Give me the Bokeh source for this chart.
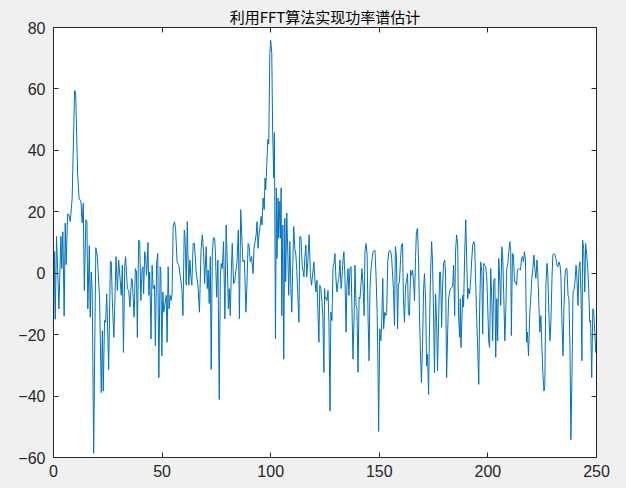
from bokeh.plotting import figure
from bokeh.models import LinearAxis, Range1d, FixedTicker, CustomLabelingPolicy
from bokeh.embed import file_html
from bokeh.resources import INLINE

title_text = "利用FFT算法实现功率谱估计"
x_ticks = [0, 50, 100, 150, 200, 250]
y_ticks = [-60, -40, -20, 0, 20, 40, 60, 80]

# power spectrum (dB), frequency in Hz
f_a = [0.0, 0.5, 0.8, 1.4, 2.5, 3.4, 3.8, 4.3, 4.9, 5.4, 5.8, 6.5, 7.1, 7.7, 8.6, 9.7, 10.2, 11.1, 11.8, 12.6,
       13.2, 13.7, 14.2, 14.9, 15.4, 15.8, 16.5, 16.9, 17.4, 17.8, 18.5, 19.1, 19.5, 20.2, 21.2, 22.0, 22.5, 22.9,
       23.5, 24.0, 24.5, 25.4, 26.2, 26.6, 27.2, 27.8, 28.8, 29.4]
p_a = [-16, 7, -15, 12, -11.6, 12, 1.5, 13.5, -14, 16.3, 2.8, 19.3, 19, 16.8, 24.5, 59.5, 58.9, 32.7, 24, 23.7,
       16.5, 22.8, -5.6, 17.4, 16.8, -11.6, 9, -14.3, 0.4, -5, -58.6, -16, 8.3, 5.4, -8.3, -38.9, -18.7, -38.4,
       -15.4, -16, -6.7, -31.3, 3.9, 3.7, -11.6, -20.9, 5.4, -5.6]

f_b = [30.0, 30.6, 31.2, 31.7, 32.2, 32.8, 33.2, 34.0, 34.6, 35.2, 35.9, 36.3, 37.1, 37.7, 38.2, 38.6, 39.2, 39.7,
       40.2, 40.8, 41.2, 41.5, 42.0, 42.5, 42.8, 43.1, 43.5, 43.9, 44.3, 44.9, 45.4, 45.9, 46.5, 46.9, 47.5, 48.0,
       48.5, 49.1, 49.4, 49.9, 50.3, 50.8, 51.2, 51.9, 52.3, 52.8, 53.2, 53.7, 54.2, 54.6, 55.1, 55.7, 56.2, 56.9,
       57.7, 58.5, 59.1, 59.6, 60.2, 60.5, 60.8, 61.1, 61.6]
p_b = [4.3, -1.2, -7.2, 2.6, -25.8, 2.6, 5.4, -5, -5.6, -11, -1.7, -2.3, -14.3, 1.5, 0.4, -20.9, 10.8, 10.3,
       -8.9, 1.5, 2.1, -6.7, 7, 4.8, -0.7, 2.6, 10, -7.2, 0.4, -21.4, 2.6, -5, -3.9, -23.6, 3.7, 6.4,
       -34, 2.1, 1.5, -26.9, -6.1, -12.7, -10.5, -7.2, -22.5, 2.1, -11.6, -7.2, -8.9, -6.7, 15.2, 16.8, 14.6, 3.7,
       2.6, -1.7, -5, -13.8, 14.1, 12.5, 6.4, -3.9, 16.8]

f_c = [61.9, 62.3, 62.8, 63.2, 63.7, 64.3, 64.9, 65.7, 66.5, 67.2, 67.9, 68.5, 69.1, 69.6, 70.3, 70.8, 71.2, 71.7,
       72.2, 72.6, 73.1, 73.6, 74.2, 74.6, 75.1, 75.7, 76.3, 76.8, 77.2, 77.7, 78.3, 78.9, 79.5, 80.0, 80.5, 80.9,
       81.4, 81.9, 82.3, 82.9, 83.4, 83.9, 84.5, 85.1, 85.6, 86.2, 86.8, 87.2, 87.9, 88.6, 89.1, 89.6, 90.0, 90.6,
       91.2, 91.9, 92.3, 92.8]
p_c = [5.9, -3.9, 4.3, -0.7, -3.9, 9.7, 9.7, 0.4, -3.9, -12.7, 7, 12.5, 7, -3.4, 8.6, -5, 1, -9.9,
       5.4, -31.3, 5.9, 11.6, 11.4, 5.9, -7.8, 4.3, -41.1, -1.7, 3.2, 1.5, 10.3, -14.9, 15.7, 3.7, -11.6, -5,
       -13.8, 1.5, 9.7, -3.4, -2.8, 0.4, 3.7, 14.1, -14.9, 20.7, 10.3, 3.7, 4.3, -12.7, -2.8, 9.7, 9.2, 3.7,
       5.4, -0.1, 8.1, 10.3]

f_d = [93.3, 93.7, 94.2, 94.6, 95.1, 95.6, 96.0, 96.5, 97.0, 97.4, 97.7, 98.2, 98.7, 99.1, 99.6, 100.0, 100.5,
       100.9, 101.4, 101.7, 102.2, 102.6, 102.9, 103.4, 103.7, 104.2, 104.5, 104.8, 105.1, 105.6, 106.0, 106.5,
       106.9, 107.4, 107.9, 108.3, 108.8, 109.3, 109.7, 110.2, 110.6, 111.1, 111.6, 112.0, 112.5, 113.0, 113.4,
       113.9, 114.5, 115.3, 115.7, 116.2, 116.6, 117.1, 117.7, 118.3, 118.8, 119.4, 119.9, 120.3, 120.8, 121.3,
       121.7, 122.2, 122.6, 123.1, 123.6, 124.0, 124.5, 124.8]
p_d = [12.5, 16.8, 8.1, 12.5, 15.2, 18.5, 15.7, 24.5, 20.7, 31, 27.2, 35.4, 43.6, 42, 71.5, 75.8, 71.5,
       46.3, 31, 45.8, -21.4, 27.8, 4.8, 24.5, 11.4, 23.4, 11.4, 27.8, -13.8, 15.7, -28, 17.9,
       -2.8, 19.6, 5.9, -7.2, 10.3, -5, -12.7, 3.7, 15.2, 8.1, 5.9, 1, -7.2, -16, 11.9,
       11.9, 2.6, -1.2, 4.8, 9.2, -1.2, 3.7, 12.5, -0.7, -3.9, 0.4, 3.7, -1.7, -6.1, -2.3,
       -11.6, -22.5, -3.9, -5, -9.4, -13.8, -32.3, -5]

f_e = [125.0, 125.4, 125.9, 126.4, 126.8, 127.3, 127.7, 128.2, 128.7, 129.1, 129.6, 130.0, 130.5, 131.0, 131.4,
       131.9, 132.4, 132.8, 133.3, 133.7, 134.2, 134.7, 135.1, 135.6, 136.0, 136.5, 137.0, 137.4, 137.9, 138.4,
       138.8, 139.3, 139.7, 140.2, 140.7, 141.1, 141.6, 142.0, 142.5, 143.0, 143.4, 143.9, 144.4, 144.8, 145.3,
       145.7, 146.2, 146.7, 147.1, 147.6, 148.0, 148.5, 149.0, 149.4, 149.7, 150.2, 150.7, 151.1, 151.6, 152.0,
       152.5, 153.0, 153.4, 153.9, 154.4, 154.8, 155.3, 155.7]
p_e = [-8.3, -7.8, -8.9, -5.6, -16, -44.9, -12.7, -15.4, 2.1, 3.2, 6.4, -1.2, -6.1, -2.8, -1.7,
       4.3, -5, -1.7, 4.3, 7, -1.7, -19.2, -3.9, 1.5, -7.2, 1.5, 2.1, -11, -28, -13.8,
       2.6, -10.5, -11.6, -32.3, -7.8, -8.3, -3.4, 1.5, -3.9, -13.8, 7, 9.7, 5.9, -13.8, -28.5,
       -5, 1.5, 4.8, 7, 7.2, 7.5, -0.7, -12.7, -30.2, -51.5, -18.1, -22, -16, -1.7, -18.1,
       -12.7, -13.8, -12.7, 3.7, 7, 7.5, 7, 4.8]

f_f = [156.5, 157.0, 157.4, 157.9, 158.4, 158.8, 159.3, 159.8, 160.2, 160.7, 161.1, 161.6, 162.1, 162.5, 163.0,
       163.4, 163.9, 164.4, 164.8, 165.3, 165.8, 166.2, 166.7, 167.1, 167.6, 168.1, 168.5, 169.0, 169.4, 169.9,
       170.4, 170.8, 171.3, 171.8, 172.2, 172.7, 173.1, 173.6, 174.1, 174.5, 175.0, 175.4, 175.9, 176.4, 176.8,
       177.3, 177.8, 178.2, 178.7, 179.1, 179.6, 180.1, 180.5, 181.0, 181.4, 181.9, 182.4, 182.8, 183.3, 183.8,
       184.2, 184.7, 185.1, 185.6, 186.1, 186.5, 187.0, 187.3, 187.6]
p_f = [-5, -17, 8.6, 5.4, -18.1, -3.9, -2.8, 4.8, 9.2, 9.7, -8.3, -16, -3.9, -2.8, -0.1,
       -13.2, -13.8, 1, -0.7, 1, -2.8, -8.9, 5.4, 13.6, 14.6, 3.7, -13.8, -26.9, -35.6, -23.6,
       -5, -0.1, -8.3, -30.2, -26.3, -39.5, -18.1, -0.1, 10.3, 3.7, -13.8, -32.3, -6.7, -16, -31.8,
       -16, 0.4, 0.4, -17.6, -5, 3.2, 4.3, 0.4, -34, -21.4, -8.3, -6.1, -5, -4.8, -3.9,
       2.6, -13.8, 7, 12.5, 9.2, -13.8, -20.9, -8.3, -24.2]

f_g = [188.4, 188.8, 189.3, 189.8, 190.2, 190.7, 191.2, 191.6, 192.1, 192.5, 193.0, 193.5, 193.9, 194.4, 194.8,
       195.3, 195.8, 196.2, 196.7, 197.2, 197.6, 198.1, 198.5, 199.0, 199.5, 199.9, 200.4, 200.8, 201.3, 201.8,
       202.2, 202.7, 203.2, 203.6, 204.1, 204.5, 205.0, 205.5, 205.9, 206.4, 206.8, 207.3, 207.8, 208.2, 208.7,
       209.2, 209.6, 210.1, 210.5, 210.8, 211.3, 211.8, 212.2, 212.7, 213.2, 213.6, 214.1, 214.5, 215.0, 215.5,
       215.9, 216.4, 216.8, 217.3, 217.8, 218.2, 218.7]
p_g = [-7.2, -11, 5.9, 17.4, 5.9, -8.3, -5, -6.7, -1.7, 3.7, 9.2, 10.3, 9.2, -3.9, -13.8,
       -24.7, -36.2, -11.6, 3.7, 0.4, -19.8, 3.2, 2.6, 2.1, -1.7, -10.5, -22.5, -24.2, 1.5, -8.9,
       -22, -2.3, -1.7, -27.4, -8.3, -22, 4.8, -2.8, -10.5, 8.6, 5.9, -7.2, -22, -13.2, 1.5,
       3.2, 7, 10.3, 7, -20.3, 6.4, 5.9, -2.8, -2.8, -3.9, 1, 1.5, 1.3, 1, 4.8,
       5.4, 3.7, 7, 4.3, -22.5, -19.2, -26.9]

f_h = [219.3, 219.8, 220.2, 220.7, 221.2, 221.6, 222.1, 222.6, 223.0, 223.5, 223.9, 224.4, 224.9, 225.3, 225.8,
       226.2, 226.7, 227.2, 227.6, 228.1, 228.6, 229.0, 229.5, 229.9, 230.4, 230.9, 231.3, 231.8, 232.2, 232.7,
       233.2, 233.6, 234.1, 234.6, 235.0, 235.5, 235.9, 236.4, 236.9, 237.3, 237.8, 238.2, 238.7, 239.2, 239.6,
       240.1, 240.6, 241.0, 241.5, 241.9, 242.4, 242.9, 243.3, 243.6, 244.1, 244.6, 245.0, 245.5, 246.0, 246.4,
       246.9, 247.3, 247.8, 248.3, 248.7, 249.2, 249.7, 250.1]
p_h = [-12.7, -7.2, -1.7, 1.5, 5.9, 1.5, -1.7, 4.3, -0.7, -10.5, -19.2, -13.8, -24.7, -32.3, -38.4,
       -36.7, -3.9, 3.2, -0.7, -13.8, -22, -16, -1.7, 5.9, 6.4, 6, 4.8, 2.6, 2.1, 3.7,
       2.6, -0.7, -16, -26.9, -11.6, -0.7, 1.5, 1.5, -7.2, -8.3, -24.7, -54.2, -33.4, -6.1, -5.6,
       -2.8, 2.6, -1.7, -10.5, 1.5, 3.7, -8.3, -28.5, 10.8, 8.1, -6.1, 9.7, 5.9, 1.5, -5,
       -16, -15.4, -34, -11.6, -12.1, -19.2, -25.8, -22.5]

freq = f_a + f_b + f_c + f_d + f_e + f_f + f_g + f_h
power_db = p_a + p_b + p_c + p_d + p_e + p_f + p_g + p_h
n = min(len(freq), len(power_db))
freq, power_db = freq[:n], power_db[:n]

AX = "#262626"
FONT = "Liberation Sans"

p = figure(width=626, height=488, output_backend="svg", toolbar_location=None,
           x_range=Range1d(0, 250), y_range=Range1d(-60, 80),
           min_border_left=53, min_border_right=30, min_border_top=27, min_border_bottom=31,
           background_fill_color="white", border_fill_color="#f0f0f0")
p.outline_line_color = AX
p.outline_line_width = 1
p.grid.visible = False

p.title.text = title_text
p.title.align = "center"
p.title.text_font = "Noto Sans CJK SC"
p.title.text_font_size = "15px"
p.title.text_font_style = "normal"
p.title.text_color = "#000000"
p.title.standoff = 1
p.title.offset = 0

no_labels = CustomLabelingPolicy(code="return new indices.constructor(indices.size)")

def style_axis(ax, show_labels=True):
    ax.axis_line_color = AX
    ax.major_tick_line_color = AX
    ax.major_tick_in = 5
    ax.major_tick_out = 0
    ax.minor_tick_line_color = None
    ax.major_label_text_color = AX
    ax.major_label_text_font = FONT
    if show_labels:
        ax.major_label_text_font_size = "16px"
    else:
        ax.major_label_text_font_size = "0px"
        ax.major_label_standoff = 0
        ax.major_label_policy = no_labels

p.xaxis[0].ticker = FixedTicker(ticks=x_ticks)
p.yaxis[0].ticker = FixedTicker(ticks=y_ticks)
style_axis(p.xaxis[0])
style_axis(p.yaxis[0])
p.xaxis[0].major_label_standoff = 7
p.yaxis[0].major_label_standoff = 8

top_axis = LinearAxis(ticker=FixedTicker(ticks=x_ticks))
right_axis = LinearAxis(ticker=FixedTicker(ticks=y_ticks))
style_axis(top_axis, False)
style_axis(right_axis, False)
p.add_layout(top_axis, "above")
p.add_layout(right_axis, "right")

p.line(freq, power_db, line_color="#0072BD", line_width=1)

html = file_html(p, INLINE)
html = html.replace("</head>", "<style>html,body{background:#f0f0f0;}</style></head>", 1)
open("out.html", "w").write(html)
